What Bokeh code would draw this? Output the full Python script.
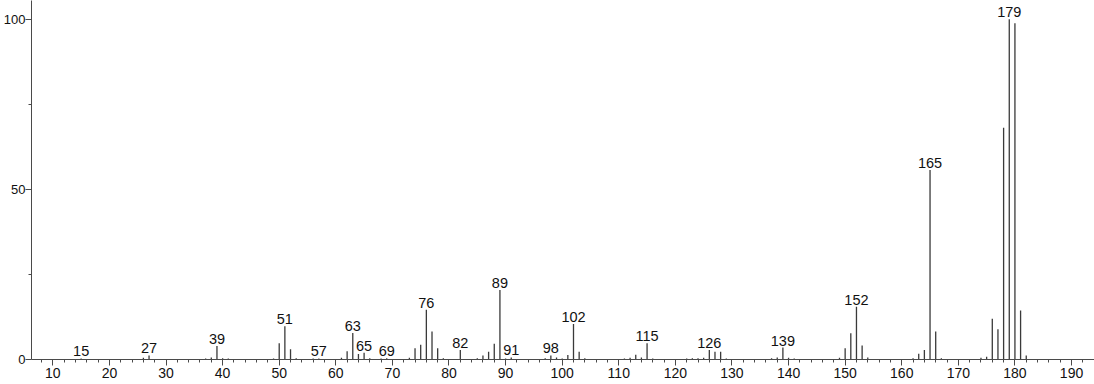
from bokeh.plotting import figure
from bokeh.models import FixedTicker, ColumnDataSource, Range1d
from bokeh.core.properties import value
from bokeh.embed import file_html
from bokeh.resources import INLINE

# m/z values and relative intensities (%)
mz = [15, 26, 27, 37, 38, 39, 40, 41, 49, 50, 51, 52, 53, 56, 57, 61, 62, 63, 64, 65,
      66, 68, 69, 73, 74, 75, 76, 77, 78, 79, 82, 85, 86, 87, 88, 89, 90, 91, 97, 98,
      99, 100, 101, 102, 103, 104, 111, 112, 113, 114, 115, 116, 122, 123, 124, 125,
      126, 127, 128, 129, 137, 138, 139, 140, 141, 149, 150, 151, 152, 153, 154, 162,
      163, 164, 165, 166, 167, 174, 175, 176, 177, 178, 179, 180, 181, 182]
intensity = [0.3, 0.5, 1.2, 0.3, 0.6, 4.0, 0.4, 0.3, 0.3, 4.8, 9.8, 3.0, 0.4, 0.3, 0.3,
             0.5, 2.4, 7.8, 1.6, 2.0, 0.4, 0.3, 0.4, 0.5, 3.3, 4.3, 14.6, 8.2, 3.3, 0.4,
             2.8, 0.4, 1.2, 2.3, 4.6, 20.4, 0.3, 0.6, 0.4, 1.2, 0.6, 0.3, 1.3, 10.4, 2.3,
             0.4, 0.3, 0.5, 1.4, 0.6, 4.8, 0.3, 0.3, 0.4, 0.4, 0.5, 2.8, 2.3, 2.3, 0.3,
             0.4, 0.6, 3.5, 0.5, 0.3, 0.5, 3.3, 7.7, 15.5, 4.1, 0.6, 0.4, 1.7, 2.8, 55.7,
             8.2, 0.4, 0.5, 0.8, 12.0, 8.9, 68.1, 100.0, 98.8, 14.4, 1.2]

labeled_mz = [15, 27, 39, 51, 57, 63, 65, 69, 76, 82, 89, 91, 98, 102, 115, 126, 139,
              152, 165, 179]

x_ticks = list(range(10, 200, 10))
x_minor = list(range(8, 196, 2))
y_ticks = [0, 50, 100]
y_minor = [25, 75]

lookup = dict(zip(mz, intensity))
label_h = [lookup[m] for m in labeled_mz]
label_txt = [str(m) for m in labeled_mz]

FONT = "Liberation Sans"
AXIS_COLOR = "#4a4a4a"

p = figure(width=1094, height=384, output_backend="svg", toolbar_location=None,
           x_range=Range1d(6.23, 194.06), y_range=Range1d(0, 105.5),
           min_border_left=30, min_border_right=0, min_border_top=0,
           min_border_bottom=25)
p.outline_line_color = None
p.xgrid.visible = False
p.ygrid.visible = False
p.background_fill_color = "white"
p.border_fill_color = "white"

peaks = ColumnDataSource(dict(x=mz, y0=[0] * len(mz), y1=intensity))
p.segment(x0="x", y0="y0", x1="x", y1="y1", source=peaks,
          line_color="#3a3a3a", line_width=1.3)

labels = ColumnDataSource(dict(x=labeled_mz, y=label_h, t=label_txt))
p.text(x="x", y="y", text="t", source=labels, text_align="center",
       text_baseline="bottom", y_offset=-2,
       text_font=value(FONT), text_font_size="14.5px", text_color="#111111")

xa = p.xaxis[0]
xa.ticker = FixedTicker(ticks=x_ticks, minor_ticks=x_minor)
xa.major_tick_out = 6
xa.major_tick_in = 0
xa.minor_tick_out = 3
xa.minor_tick_in = 0
xa.major_label_standoff = 2
xa.axis_line_color = AXIS_COLOR
xa.major_tick_line_color = AXIS_COLOR
xa.minor_tick_line_color = AXIS_COLOR
xa.major_label_text_font = FONT
xa.major_label_text_font_size = "14px"
xa.major_label_text_color = "#111111"

ya = p.yaxis[0]
ya.ticker = FixedTicker(ticks=y_ticks, minor_ticks=y_minor)
ya.major_tick_out = 6
ya.major_tick_in = 0
ya.minor_tick_out = 3
ya.minor_tick_in = 0
ya.major_label_standoff = 0
ya.axis_line_color = AXIS_COLOR
ya.major_tick_line_color = AXIS_COLOR
ya.minor_tick_line_color = AXIS_COLOR
ya.major_label_text_font = FONT
ya.major_label_text_font_size = "13px"
ya.major_label_text_color = "#111111"

open("out.html", "w").write(file_html(p, INLINE))
